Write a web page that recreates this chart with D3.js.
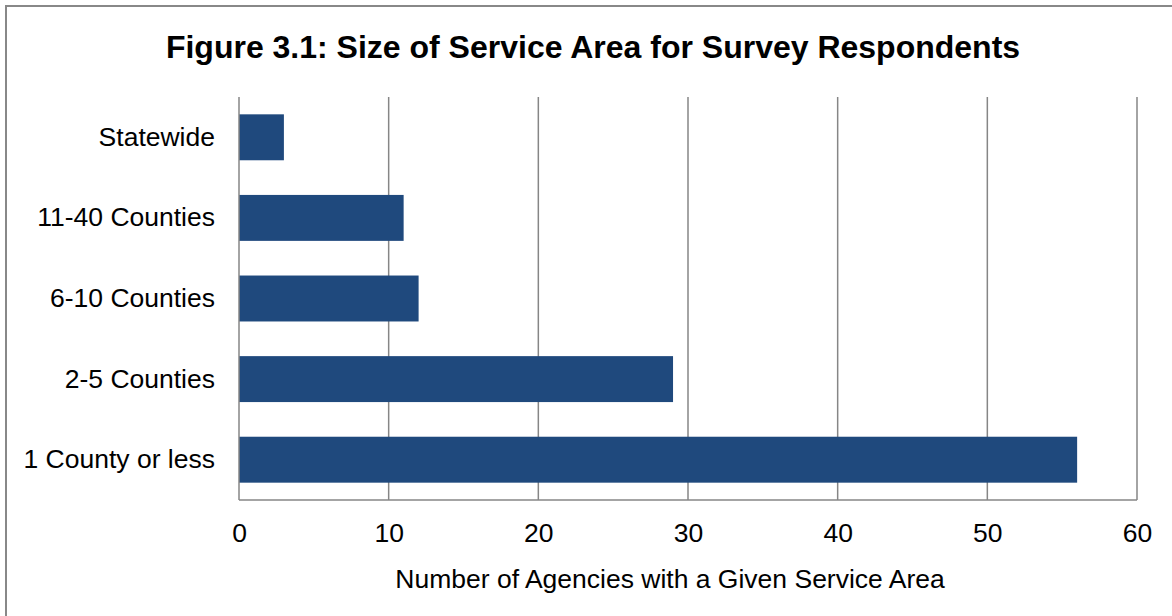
<!DOCTYPE html>
<html>
<head>
<meta charset="utf-8">
<script src="https://cdn.jsdelivr.net/npm/d3@7"></script>
<style>
  body { margin: 0; background: #fff; }
  text { font-family: "Liberation Sans", Arial, sans-serif; fill: #000; }
</style>
</head>
<body>
<div id="plot"></div>
<script>
let categories = ['Statewide', '11-40 Counties', '6-10 Counties', '2-5 Counties', '1 County or less'];
let values = [3, 11, 12, 29, 56];
let ticks = [0, 10, 20, 30, 40, 50, 60];

let width = 1172, height = 616;
let plotLeft = 239, plotRight = 1137, plotTop = 97, plotBottom = 500;

let svg = d3.select('#plot').append('svg').attr('width', width).attr('height', height);

// outer chart border
svg.append('rect')
  .attr('x', 6).attr('y', 6)
  .attr('width', width + 10).attr('height', height + 10)
  .attr('fill', 'none').attr('stroke', '#888').attr('stroke-width', 2);

svg.append('text')
  .attr('x', 593).attr('y', 58)
  .attr('text-anchor', 'middle')
  .style('font-size', '32px').style('font-weight', 'bold')
  .text('Figure 3.1: Size of Service Area for Survey Respondents');

let x = d3.scaleLinear().domain([0, 60]).range([plotLeft, plotRight]);
let y = d3.scaleBand().domain(categories).range([plotTop, plotBottom]).paddingInner(0.43).paddingOuter(0.215);

// gridlines
svg.append('g').selectAll('line').data(ticks.slice(1)).enter().append('line')
  .attr('x1', d => x(d)).attr('x2', d => x(d))
  .attr('y1', plotTop).attr('y2', plotBottom)
  .attr('stroke', '#868686').attr('stroke-width', 1.5);

svg.selectAll('rect.bar').data(values).enter().append('rect')
  .attr('class', 'bar')
  .attr('x', x(0))
  .attr('y', (d, i) => y(categories[i]))
  .attr('width', d => x(d) - x(0))
  .attr('height', y.bandwidth())
  .attr('fill', '#1F497D');

// axes lines
svg.append('line').attr('x1', x(0)).attr('x2', x(0)).attr('y1', plotTop).attr('y2', plotBottom)
  .attr('stroke', '#868686').attr('stroke-width', 1.5);
svg.append('line').attr('x1', x(0)).attr('x2', plotRight).attr('y1', plotBottom).attr('y2', plotBottom)
  .attr('stroke', '#868686').attr('stroke-width', 1.5);

let xAxis = svg.append('g').attr('transform', 'translate(0,' + plotBottom + ')')
  .call(d3.axisBottom(x).tickValues(ticks).tickSize(0).tickPadding(23));
xAxis.select('.domain').remove();
xAxis.selectAll('text').style('font-size', '26.5px').style('font-family', '"Liberation Sans", Arial, sans-serif').attr('fill', '#000');

let yAxis = svg.append('g').attr('transform', 'translate(' + plotLeft + ',0)')
  .call(d3.axisLeft(y).tickSize(0).tickPadding(24));
yAxis.select('.domain').remove();
yAxis.selectAll('text').style('font-size', '26.5px').style('font-family', '"Liberation Sans", Arial, sans-serif').attr('fill', '#000');

svg.append('text')
  .attr('x', 670).attr('y', 588)
  .attr('text-anchor', 'middle')
  .style('font-size', '26.5px')
  .text('Number of Agencies with a Given Service Area');
</script>
</body>
</html>
